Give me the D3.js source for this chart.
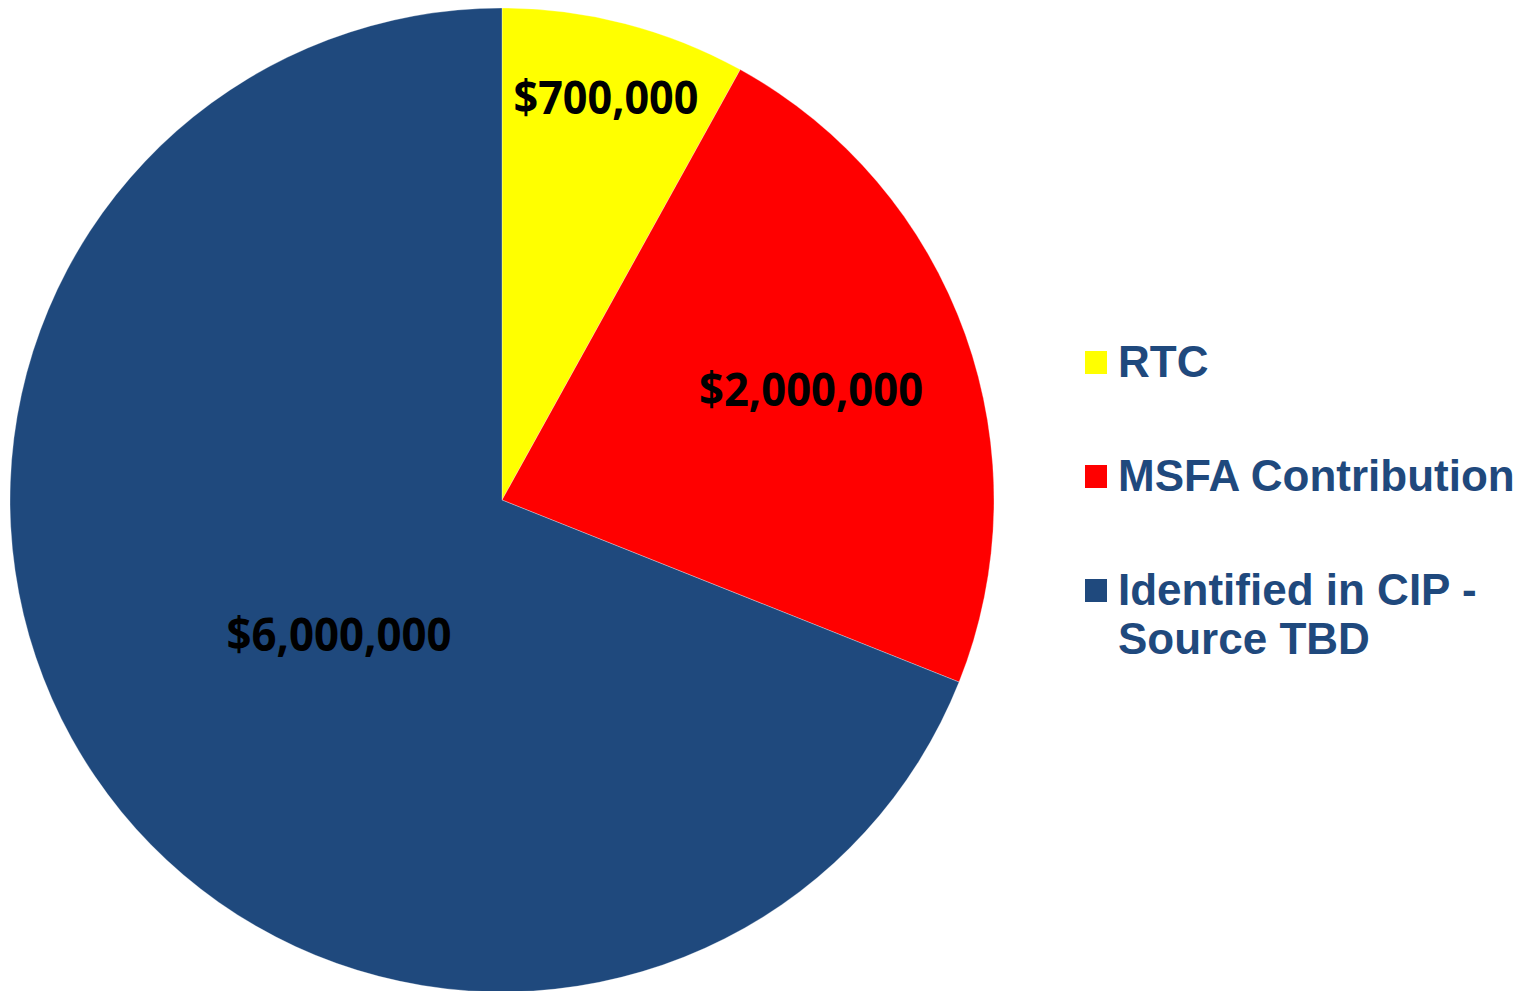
<!DOCTYPE html>
<html><head><meta charset="utf-8">
<script src="https://cdn.jsdelivr.net/npm/d3@7"></script>
<style>body{margin:0;background:#fff}svg{display:block}</style>
</head><body>
<svg id="chart" width="1530" height="991"></svg>
<script>
const categories = ["RTC", "MSFA Contribution", "Identified in CIP - Source TBD"];
const values = [700000, 2000000, 6000000];
const valueLabels = ["$700,000", "$2,000,000", "$6,000,000"];
const colors = ["#FFFF00", "#FF0000", "#1F497D"];
const legendLines = [["RTC"], ["MSFA Contribution"], ["Identified in CIP -", "Source TBD"]];

const svg = d3.select("#chart");
const cx = 502, cy = 500, R = 492;
const pie = d3.pie().sort(null).value(d => d)(values);
const arc = d3.arc().innerRadius(0).outerRadius(R);
const g = svg.append("g").attr("transform", `translate(${cx},${cy})`);
g.selectAll("path").data(pie).join("path")
  .attr("d", arc).attr("fill", (d, i) => colors[i])
  .attr("stroke", "#fff").attr("stroke-width", 0.6).attr("stroke-opacity", 0.5);

// label placement: fraction of radius along mid-angle, plus small nudges
const labelR = [0.845, 0.667, 0.43];
const labelNudge = [[0, 0], [0, 0], [0, 0]];
const labelFit = [185, 224, 225];
g.selectAll("text.lab").data(pie).join("text").attr("class", "lab")
  .attr("transform", (d, i) => {
    const a = (d.startAngle + d.endAngle) / 2 + (i === 2 ? -0.095 : 0);
    const r = R * labelR[i];
    return `translate(${Math.sin(a) * r + labelNudge[i][0]},${-Math.cos(a) * r + labelNudge[i][1]})`;
  })
  .attr("text-anchor", "middle").attr("dy", "0.35em")
  .attr("font-family", "'Open Sans', 'Noto Sans', sans-serif")
  .attr("font-weight", "bold").attr("font-size", 47).attr("fill", "#000")
  .attr("textLength", (d, i) => labelFit[i]).attr("lengthAdjust", "spacingAndGlyphs")
  .text((d, i) => valueLabels[i]);

const legend = svg.append("g");
const legY = [377, 491, 605];
categories.forEach((c, i) => {
  legend.append("rect").attr("x", 1085).attr("y", legY[i] - 26).attr("width", 22).attr("height", 23)
    .attr("fill", colors[i]);
  const t = legend.append("text").attr("x", 1118).attr("y", legY[i])
    .attr("font-family", "'Liberation Sans', Arial, sans-serif").attr("font-weight", "bold")
    .attr("font-size", 44).attr("fill", "#1F497D");
  legendLines[i].forEach((ln, j) => {
    t.append("tspan").attr("x", 1118).attr("dy", j === 0 ? 0 : 49).text(ln);
  });
});
</script>
</body></html>
